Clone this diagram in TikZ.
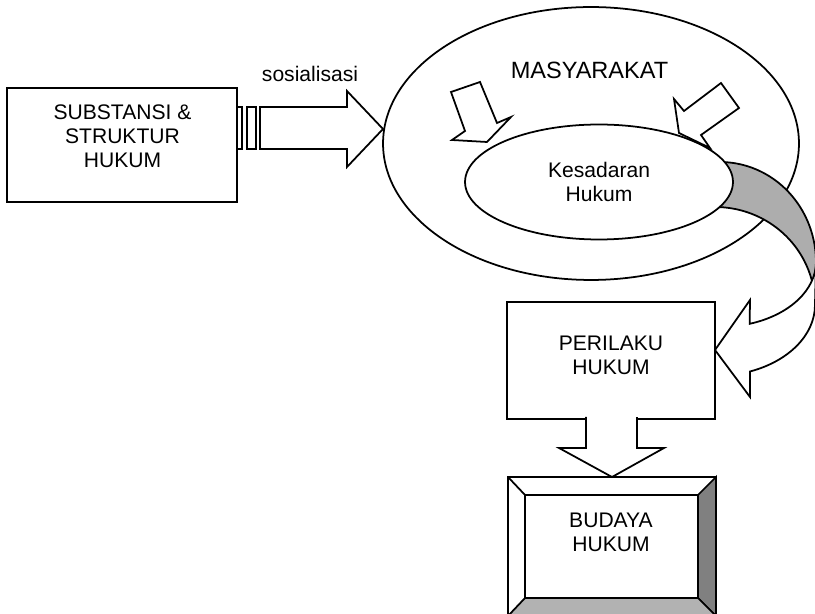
\documentclass[tikz,border=0pt]{standalone}
\usepackage{fontspec}
\setmainfont{Liberation Sans}
\usetikzlibrary{shapes.geometric, calc}

\tikzset{
  box/.style={draw, rectangle, line width=1pt, inner sep=0pt, outer sep=0pt},
  oval/.style={draw, ellipse, line width=1pt, inner sep=0pt, outer sep=0pt},
  blk/.style={draw, line width=1pt, fill=white},
  txt/.style={font=\fontsize{12}{13.8}\selectfont, align=center, inner sep=0pt},
}

\begin{document}
\begin{tikzpicture}[x=0.02cm, y=-0.02cm]
\useasboundingbox (0,0) rectangle (815,614);
\clip (0,0) rectangle (815,614);

% left box, sosialisasi arrow
\node[box, minimum width=4.6cm, minimum height=2.28cm] at (122,145) (substansi) {};
\node[txt] at (122.5,136.5) (substansitxt) {SUBSTANSI \&\\STRUKTUR\\HUKUM};
\draw[blk] (237,107) rectangle (242,149);
\draw[blk] (247,107) rectangle (256,149);
\draw[blk] (260,107) -- (347,107) -- (347,91) -- (383,129) -- (347,167) -- (347,149) -- (260,149) -- cycle;
\node[txt] at (310,73.5) (sosialisasi) {sosialisasi};

% masyarakat
\node[oval, minimum width=8.32cm, minimum height=5.46cm] at (591,143.5) (society) {};
\node[txt, font=\fontsize{13.4}{15}\selectfont] at (589.5,70.5) (masyarakat) {MASYARAKAT};
\draw[blk] (451,92) -- (480,82) -- (497,123) -- (511,117) -- (487,142) -- (452,140) -- (465,131) -- cycle;
\draw[blk] (721,83) -- (739,108) -- (701,135) -- (710,148) -- (679,133) -- (674,99) -- (684,111) -- cycle;

% curved arrow: grey back, white front
\draw[line width=1pt, fill=black!32] (711.6,162.4) arc[start angle=-95, end angle=0, x radius=96, y radius=100]
  -- (815,305) arc[start angle=0, end angle=-100, x radius=100, y radius=98] -- cycle;
\draw[blk] (816,262) arc[start angle=0, end angle=72, x radius=96, y radius=65]
  -- (750,300) -- (715,350) -- (750,397) -- (750,371.5)
  arc[start angle=69.5, end angle=0, x radius=100, y radius=71] -- cycle;

% kesadaran
\node[oval, txt, fill=white, minimum width=5.36cm, minimum height=2.3cm] at (599,182) (kesadaran) {Kesadaran\\Hukum};

% perilaku
\node[box, fill=white, minimum width=4.16cm, minimum height=2.34cm] at (611,360.5) (perilaku) {};
\node[txt] at (611,355.5) (perilakutxt) {PERILAKU\\HUKUM};

% budaya, bevelled
\node[box, fill=white, minimum width=4.16cm, minimum height=2.78cm] at (612,546.5) (bevel) {};
\node[box, minimum width=3.46cm, minimum height=2.06cm] at (611.5,546.5) (budaya) {};
\filldraw[line width=1pt, fill=black!50] (budaya.north east) -- (bevel.north east) -- (bevel.south east) -- (budaya.south east) -- cycle;
\filldraw[line width=1pt, fill=black!30] (budaya.south west) -- (budaya.south east) -- (bevel.south east) -- (bevel.south west) -- cycle;
\draw[line width=1pt] (bevel.north west) -- (budaya.north west);
\node[txt] at (611,532.5) (budayatxt) {BUDAYA\\HUKUM};

\filldraw[blk] ($(perilaku.south)+(-25,-2)$) -- ++(0,31) -- ++(-27,0) -- (bevel.north)
  -- ++(52,-29) -- ++(-27,0) -- ++(0,-31);
\end{tikzpicture}
\end{document}
